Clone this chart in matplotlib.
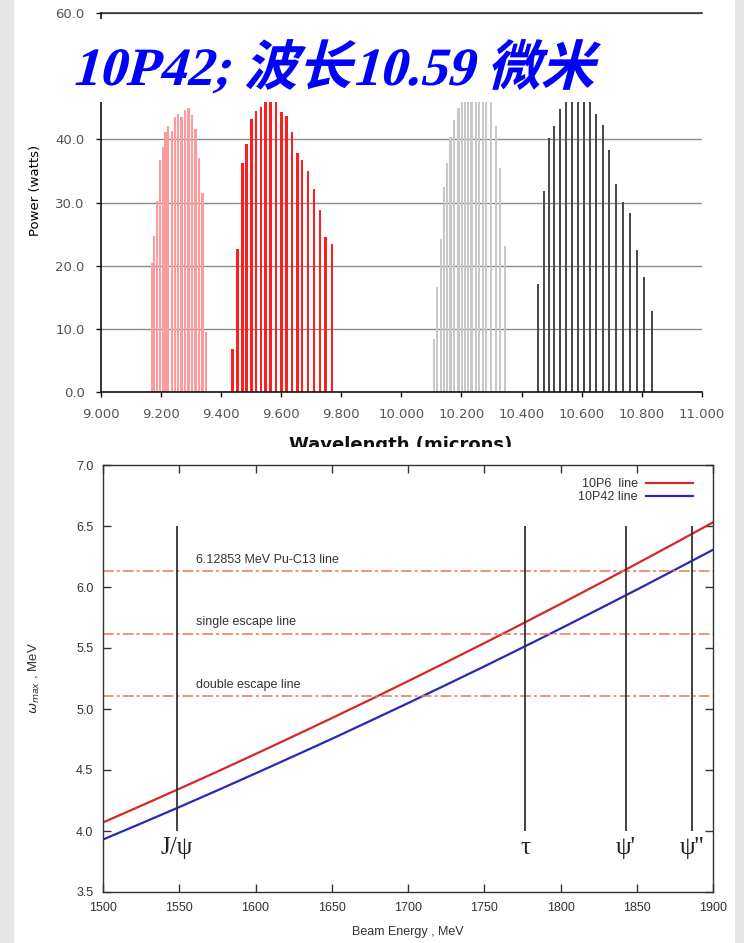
import numpy as np
import matplotlib
matplotlib.use('Agg')
import matplotlib.pyplot as plt
from matplotlib.patches import Rectangle, PathPatch
from matplotlib.textpath import TextPath
from matplotlib.font_manager import FontProperties
from matplotlib.transforms import Affine2D

W, H = 744, 943

# ---- top chart: CO2 laser line powers ----
wl_9r = [9.172, 9.179, 9.188, 9.197, 9.207, 9.216, 9.225, 9.237, 9.247, 9.258,
         9.269, 9.280, 9.293, 9.305, 9.316, 9.327, 9.339, 9.352]
pw_9r = [20.5, 24.8, 30.3, 36.8, 38.8, 41.1, 42.2, 41.3, 43.6, 44.0,
         43.6, 44.7, 45.0, 43.9, 41.6, 37.1, 31.6, 9.5]

wl_9p = [9.440, 9.455, 9.471, 9.485, 9.501, 9.517, 9.534, 9.549, 9.565, 9.584,
         9.601, 9.619, 9.637, 9.654, 9.670, 9.690, 9.710, 9.730, 9.749, 9.770]
pw_9p = [6.9, 22.7, 36.3, 39.2, 43.2, 44.5, 45.1, 46.5, 47.0, 46.5,
         44.4, 43.7, 41.2, 37.9, 36.7, 35.0, 32.1, 28.9, 24.6, 23.5]

wl_10r = [10.109, 10.120, 10.131, 10.142, 10.153, 10.164, 10.176, 10.190, 10.201, 10.212,
          10.223, 10.234, 10.248, 10.259, 10.272, 10.283, 10.298, 10.314, 10.328, 10.345]
pw_10r = [8.5, 16.7, 24.2, 32.5, 36.2, 40.4, 43.0, 45.0, 46.5, 47.5,
          48.0, 48.0, 48.0, 47.5, 47.0, 46.5, 46.0, 42.1, 35.5, 23.1]

wl_10p = [10.456, 10.474, 10.492, 10.509, 10.528, 10.547, 10.567, 10.587, 10.607, 10.629,
          10.649, 10.670, 10.692, 10.715, 10.736, 10.760, 10.784, 10.808, 10.833]
pw_10p = [17.2, 31.8, 40.3, 42.1, 44.8, 46.5, 47.5, 48.0, 47.5, 46.5,
          44.1, 42.3, 38.4, 32.9, 30.1, 28.4, 22.5, 18.3, 12.8]

wl_ticks = [9.0, 9.2, 9.4, 9.6, 9.8, 10.0, 10.2, 10.4, 10.6, 10.8, 11.0]
pw_ticks = [0, 10, 20, 30, 40, 50, 60]
title_text = '10P42; 波长10.59 微米'

# ---- bottom chart: Compton edge vs beam energy ----
energy = [1500, 1525, 1550, 1575, 1600, 1625, 1650, 1675, 1700,
          1725, 1750, 1775, 1800, 1825, 1850, 1875, 1900]
omega_10p6 = [4.070, 4.207, 4.346, 4.487, 4.631, 4.777, 4.925, 5.075, 5.228,
              5.383, 5.540, 5.699, 5.861, 6.025, 6.191, 6.359, 6.530]
omega_10p42 = [3.930, 4.062, 4.196, 4.333, 4.472, 4.613, 4.755, 4.901, 5.048,
               5.198, 5.349, 5.503, 5.659, 5.818, 5.978, 6.141, 6.305]
ref_levels = [6.12853, 5.61753, 5.10653]
ref_labels = ['6.12853 MeV Pu-C13 line', 'single escape line', 'double escape line']
res_energy = [1548.5, 1777.0, 1843.0, 1886.5]
res_labels = ['J/ψ', 'τ', "ψ'", "ψ''"]
e_ticks = [1500, 1550, 1600, 1650, 1700, 1750, 1800, 1850, 1900]
w_ticks = [3.5, 4.0, 4.5, 5.0, 5.5, 6.0, 6.5, 7.0]


def fx(x):
    return x / W


def fy(y):
    return 1 - y / H


def frect(x0, y0, x1, y1, z):
    return Rectangle((fx(x0), fy(y1)), fx(x1) - fx(x0), fy(y0) - fy(y1),
                     transform=fig.transFigure, facecolor='white',
                     edgecolor='none', zorder=z)


fig = plt.figure(figsize=(W / 100, H / 100), dpi=100, facecolor='#e6e6e6')
fig.add_artist(frect(14, 0, 735, H, -1))

# top panel
ax1 = fig.add_axes([fx(100.5), fy(392.3), fx(702) - fx(100.5), fy(13) - fy(392.3)])
ax1.set_zorder(0)
ax1.bar(wl_9r, pw_9r, width=0.0075, color='#ff9a9a', linewidth=0)
ax1.bar(wl_9p, pw_9p, width=0.009, color='#ff1e1e', linewidth=0)
ax1.bar(wl_10r, pw_10r, width=0.0075, color='#c8c8c8', linewidth=0)
ax1.bar(wl_10p, pw_10p, width=0.007, color='#4a4a4a', linewidth=0)
ax1.set_xlim(9.0, 11.0)
ax1.set_ylim(0, 60)
ax1.set_xticks(wl_ticks)
ax1.set_xticklabels(['%.3f' % v for v in wl_ticks])
ax1.set_yticks(pw_ticks)
ax1.set_yticklabels(['%.1f' % v for v in pw_ticks])
ax1.set_axisbelow(True)
ax1.grid(axis='y', color='#8a8a8a', lw=1)
ax1.grid(axis='x', visible=False)
for s in ['top', 'right']:
    ax1.spines[s].set_visible(False)
for s in ['left', 'bottom']:
    ax1.spines[s].set_color('#111111')
    ax1.spines[s].set_linewidth(1.2)
ax1.axhline(60, color='#333333', lw=1.2, clip_on=False)
ax1.tick_params(direction='out', length=3.5, width=1, color='#111111',
                labelsize=9.5, labelcolor='#555555', pad=8)
for lab in ax1.get_xticklabels() + ax1.get_yticklabels():
    lab.set_family('DejaVu Sans')

fig.text(fx(35), fy(190), 'Power (watts)', rotation=90, ha='center', va='center',
         fontsize=9.5, family='DejaVu Sans', color='black')
fig.text(fx(401), fy(436), 'Wavelength (microns)', ha='center', va='top',
         fontsize=13, fontweight='bold', family='DejaVu Sans', color='#111111',
         zorder=0.5)

# white block behind the title
fig.add_artist(frect(14, 19, 735, 102, 5))
prop = FontProperties(family=['Liberation Serif', 'Noto Sans CJK SC'], weight='bold')
tp = TextPath((0, 0), title_text, size=54, prop=prop)
tr = Affine2D().skew_deg(15, 0).translate(71, H - 85)
fig.add_artist(PathPatch(tp, transform=tr, facecolor='#0000ff', edgecolor='none', zorder=6))

# cut of the upper x label by the lower panel
fig.add_artist(frect(14, 447, 735, H, 1))

# bottom panel
ax2 = fig.add_axes([fx(103), fy(892), fx(713) - fx(103), fy(465) - fy(892)])
ax2.set_zorder(2)
ax2.plot(energy, omega_10p6, color='#d42828', lw=1.6, label='10P6  line')
ax2.plot(energy, omega_10p42, color='#2828b8', lw=1.6, label='10P42 line')
for lev, lab in zip(ref_levels, ref_labels):
    ax2.axhline(lev, color='#e07a5a', lw=1.1, ls=(0, (7, 2, 2, 2)))
    ax2.text(1561, lev + 0.045, lab, fontsize=9, family='Liberation Sans',
             color='#333333', va='bottom', ha='left')
ax2.vlines(res_energy, 4.0, 6.5, color='#333333', lw=1.3)
for e, lab in zip(res_energy, res_labels):
    ax2.text(e, 3.86, lab, fontsize=18, family=['Liberation Serif', 'DejaVu Serif'],
             color='#222222', ha='center', va='center')
ax2.set_xlim(1500, 1900)
ax2.set_ylim(3.5, 7.0)
ax2.set_xticks(e_ticks)
ax2.set_xticklabels([str(v) for v in e_ticks])
ax2.set_yticks(w_ticks)
ax2.set_yticklabels(['%.1f' % v for v in w_ticks])
ax2.tick_params(direction='in', top=True, right=True, length=6, width=1,
                color='#333333', labelsize=9, labelcolor='#333333', pad=7)
for lab in ax2.get_xticklabels() + ax2.get_yticklabels():
    lab.set_family('Liberation Sans')
for s in ax2.spines.values():
    s.set_color('#333333')
    s.set_linewidth(1)
ax2.set_xlabel('Beam Energy , MeV', fontsize=9, family='Liberation Sans', color='#333333')
ax2.set_ylabel(r'$\omega_{max}$ , MeV', fontsize=9.5, family='Liberation Sans', color='#333333')
ax2.xaxis.set_label_coords(0.5, (892 - 926) / 427, transform=ax2.transAxes)
ax2.yaxis.set_label_coords((42 - 103) / 610, (892 - 678) / 427, transform=ax2.transAxes)
leg = ax2.legend(loc='upper right', frameon=False, markerfirst=False, fontsize=9,
                 handlelength=3.8, handletextpad=0.6, labelspacing=0.1,
                 borderaxespad=0, bbox_to_anchor=(fx(698), fy(473)),
                 bbox_transform=fig.transFigure)
for t in leg.get_texts():
    t.set_family('Liberation Sans')
    t.set_color('#333333')

fig.savefig('out.png', dpi=100, facecolor=fig.get_facecolor())
